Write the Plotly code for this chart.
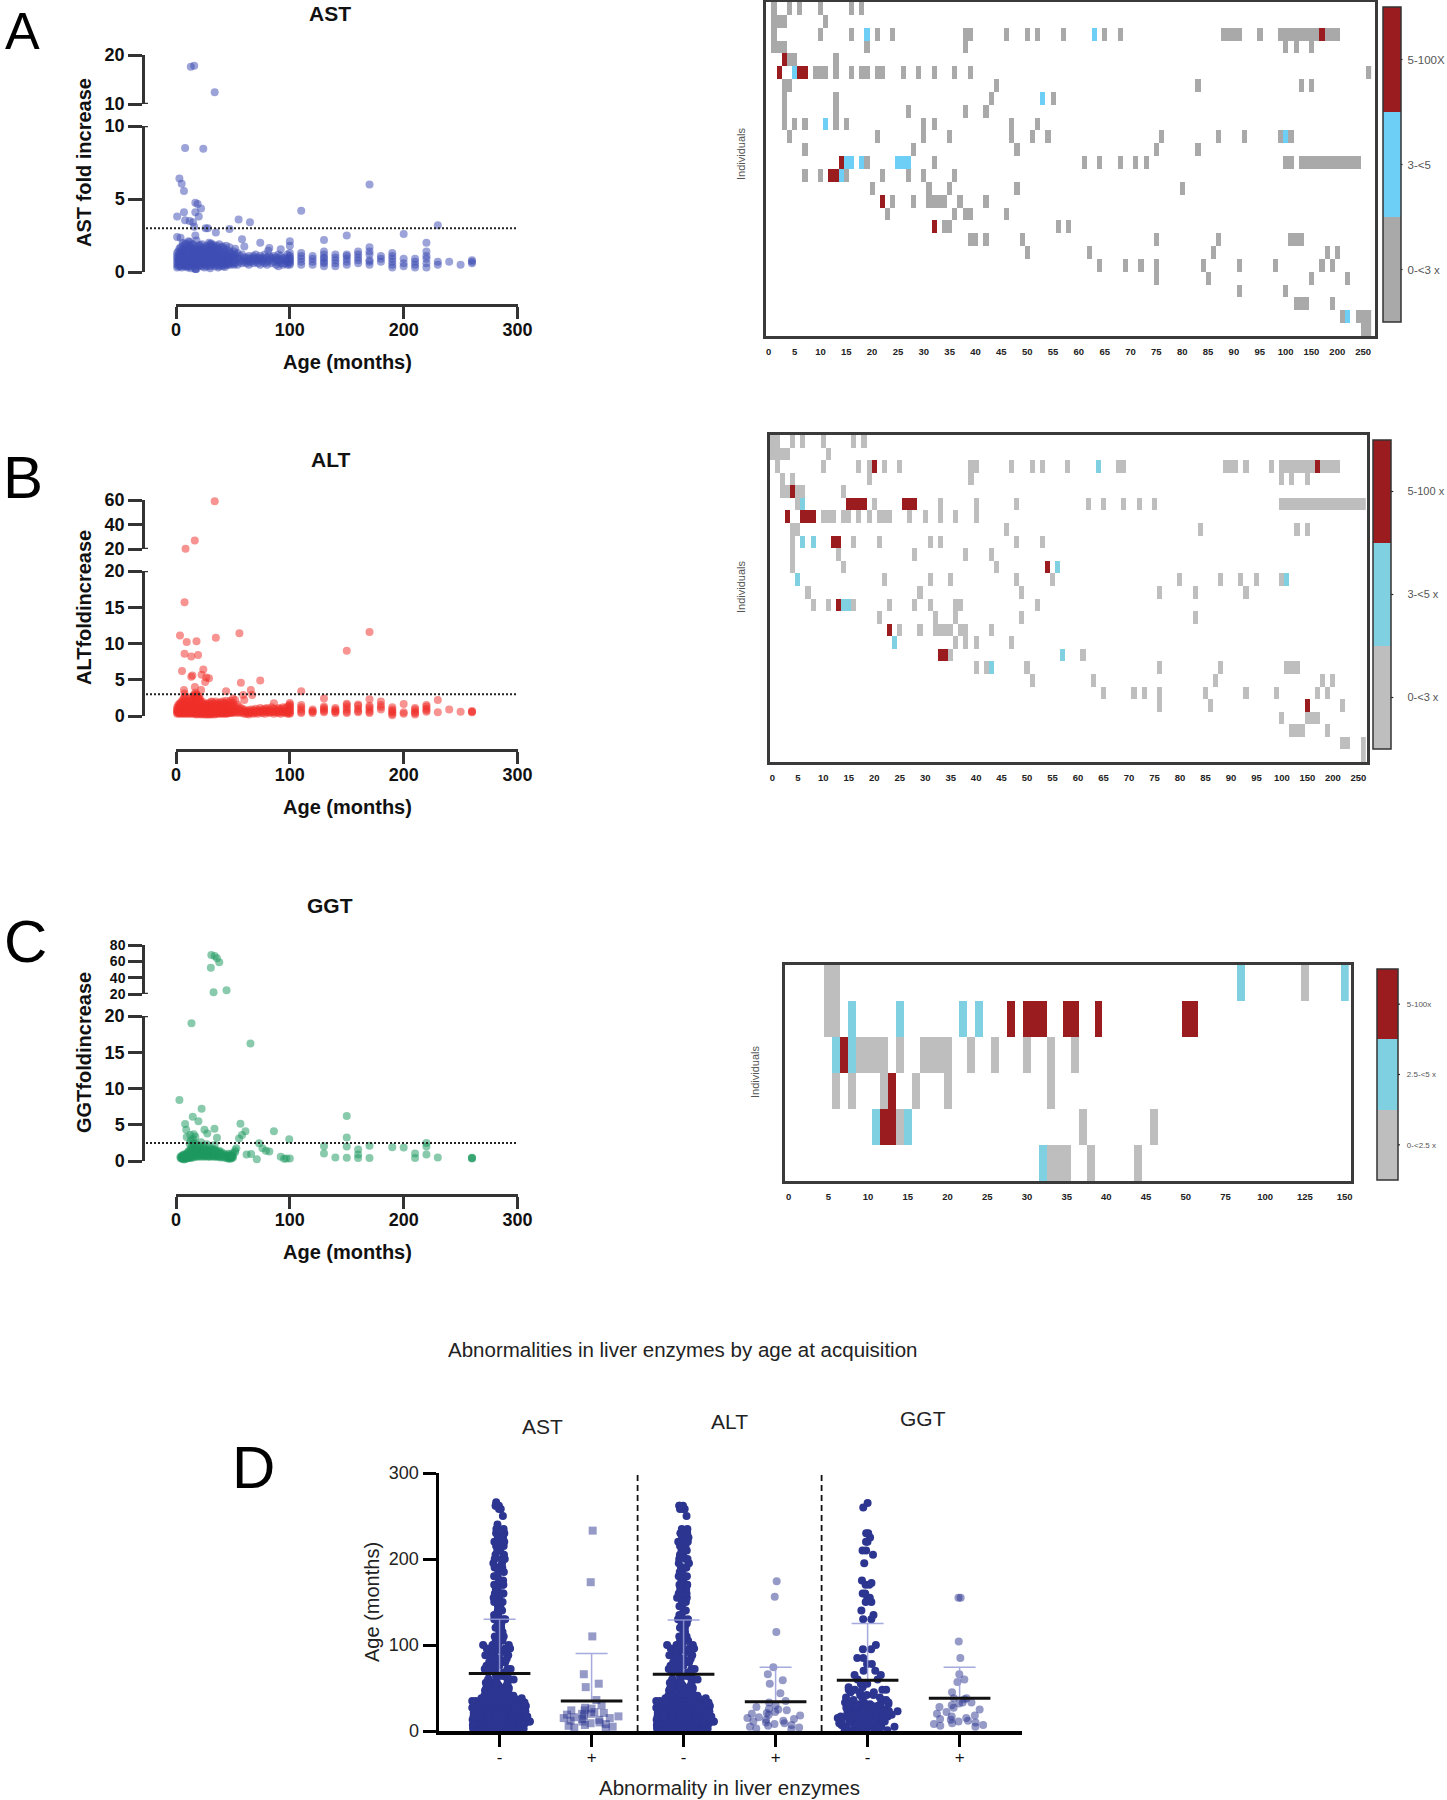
import plotly.graph_objects as go

W, H = 1447, 1800
FONT = "Liberation Sans"

def X(p): return p / W
def Y(p): return 1 - p / H

# ---------- Panel A-C scatter data: (age, [fold values]) ----------
AST_HIGH_AGE = [13,16,34,8,24,3,5,7,170,17,19,22,17,7,20,1,110,55,65,8,12,15,16,26,28,35,47,230,200,150,130,58,60,74,220,100,100,1,4,12,17,170,82,92,81,
                6,9,11,14,18,21,23,27,29,31,33,36,38,41,44,47,52,10,13,17,25,30,37,43]
AST_HIGH_VAL = [17.6,17.8,12.4,8.5,8.45,6.4,6.05,5.55,6.0,4.75,4.65,4.35,4.1,4.1,3.8,3.8,4.2,3.6,3.4,3.55,3.5,3.4,3.1,3.0,3.0,2.7,2.95,3.2,2.6,2.5,2.2,2.25,1.75,2.0,2.0,2.1,1.8,2.4,2.35,2.05,2.5,1.7,1.65,1.55,1.45,
                2.0,1.95,2.1,1.9,2.15,1.85,1.9,1.8,2.0,1.95,1.85,1.8,1.9,1.75,1.8,1.7,1.6,.3,.25,.2,.3,.25,.3,.35]
AST_CLOUD = [
 (1,[.3,.5,.7,.9,1.1,1.3]),(2,[.4,.6,.8,1.0,1.4]),(3,[.5,.7,.9,1.2,1.6]),(4,[.4,.6,.8,1.1,1.3,1.7]),(5,[.3,.5,.9,1.2,1.5]),
 (6,[.5,.7,1.0,1.3,1.8]),(7,[.4,.6,.8,1.1,1.4,1.6]),(8,[.5,.7,.9,1.2,1.5,1.9]),(9,[.4,.8,1.0,1.3,1.7]),(10,[.5,.6,.9,1.1,1.4,1.6]),
 (11,[.4,.7,1.0,1.2,1.5]),(12,[.5,.8,.9,1.3,1.6,1.8]),(13,[.4,.6,1.0,1.4,1.7]),(14,[.5,.7,.9,1.1,1.5]),(15,[.6,.8,1.0,1.2,1.4,1.9]),
 (16,[.4,.7,1.1,1.3,1.6]),(17,[.2,.5,.8,1.0,1.5,1.7]),(18,[.2,.6,.9,1.2,1.4]),(19,[.5,.7,1.0,1.3,1.6]),(20,[.4,.8,1.1,1.5,1.8]),
 (21,[.5,.6,.9,1.2,1.4]),(22,[.6,.8,1.0,1.3,1.7]),(23,[.4,.7,1.1,1.4]),(24,[.5,.9,1.2,1.6]),(25,[.6,.8,1.0,1.3,1.5]),
 (26,[.5,.7,1.1,1.4,1.7]),(27,[.4,.8,1.0,1.2,1.6]),(28,[.6,.9,1.3,1.5]),(29,[.5,.7,1.1,1.4]),(30,[.4,.8,1.0,1.3,1.9]),
 (31,[.6,.9,1.2,1.5,1.8]),(32,[.5,.7,1.0,1.4,1.7]),(33,[.6,.8,1.1,1.6]),(34,[.4,.9,1.3,1.5]),(35,[.5,.7,1.0,1.2,1.7]),
 (36,[.6,.8,1.1,1.4]),(37,[.5,.9,1.3,1.6]),(38,[.4,.7,1.0,1.5]),(39,[.6,.8,1.2,1.4]),(40,[.5,.9,1.1,1.7]),
 (41,[.4,.7,1.0,1.3]),(42,[.5,.8,1.2,1.6]),(43,[.6,.9,1.4]),(44,[.5,.7,1.1,1.3]),(45,[.6,.8,1.0,1.5]),
 (46,[.5,.9,1.2]),(47,[.6,.7,1.0,1.4]),(48,[.5,.8,1.1,1.3]),(50,[.6,.9,1.0,1.2]),(51,[.5,.7,1.1,1.4]),
 (52,[.6,.8,1.0,1.2]),(54,[.5,.9,1.3]),(56,[.7,.9,1.1]),(58,[.6,.8,1.2]),(60,[.7,1.0]),(62,[.6,.8,1.0]),
 (64,[.5,.7,.9,1.1]),(66,[.7,.9]),(68,[.6,.8,1.0,1.1]),(70,[.7,.9,1.2]),(72,[.6,.8,1.0]),(74,[.5,.9,1.1]),
 (76,[.7,.8,1.0]),(78,[.6,.9,1.2]),(80,[.5,.7,1.0]),(82,[.8,1.1]),(84,[.6,.9,1.0]),(86,[.7,1.1]),
 (88,[.5,.8,1.0]),(90,[.4,.7,.9,1.2]),(92,[.6,.8,1.1]),(94,[.5,.9]),(96,[.6,.8,1.0]),(98,[.5,.7,.9,1.2]),
 (100,[.5,.6,.7,.8,.9,1.0,1.1,1.3]),(110,[.5,.7,.9,1.1,1.3]),(120,[.5,.7,.9,1.1]),(130,[.4,.6,.7,.9,1.0,1.2,1.4]),
 (140,[.4,.6,.8,1.0,1.2]),(150,[.5,.7,.9,1.1,1.2]),(160,[.6,.8,1.0,1.2,1.4]),(170,[.5,.7,.8,1.2,1.4]),(180,[.7,.9,1.1]),
 (190,[.3,.5,.7,.9,1.1,1.3]),(200,[.4,.6,.9]),(210,[.3,.5,.7,.9]),(220,[.3,.6,.9,1.1,1.4]),(230,[.5,.7]),(240,[.7]),(250,[.5]),(260,[.6,.7,.8]),
]

ALT_HIGH_AGE = [34,16.5,8.4,7.5,3.5,9.4,18,35,55.7,170,150,7.5,13.4,19.4,5.3,24,22.5,13.4,14.4,26.6,29,25.6,57,74,7,7.5,16.6,22,44,65.7,110,67,59,60,130,170,230,180,200,50,15.6,18,20,8,86]
ALT_HIGH_VAL = [59,27,20.3,15.7,11.1,10.2,10.3,10.8,11.4,11.6,9.0,8.6,8.2,8.4,6.2,6.4,5.7,5.4,5.6,5.3,5.2,4.7,4.6,4.9,3.6,3.1,4.0,3.6,3.4,3.6,3.4,2.9,2.9,2.2,2.4,2.3,2.2,2.0,1.65,2.4,2.9,2.7,2.2,2.7,1.75]
ALT_CLOUD = [
 (1,[.3,.5,.7,.9,1.2]),(2,[.4,.6,.8,1.1,1.5]),(3,[.3,.5,.9,1.3,1.7]),(4,[.4,.7,1.0,1.4,1.8]),(5,[.3,.6,.8,1.2,1.6,2.0]),
 (6,[.4,.5,.9,1.1,1.5,2.2]),(7,[.3,.7,1.0,1.3,1.9,2.5]),(8,[.4,.6,.8,1.2,1.6,2.1]),(9,[.3,.5,.9,1.4,1.8]),(10,[.4,.7,1.1,1.5,2.0]),
 (11,[.3,.6,.8,1.2,1.7]),(12,[.4,.5,1.0,1.3,1.9,2.3]),(13,[.3,.7,.9,1.4,1.6,2.6]),(14,[.4,.6,1.1,1.5,2.2]),(15,[.3,.5,.8,1.2,1.8,2.4]),
 (16,[.4,.7,1.0,1.6,2.0,2.8]),(17,[.3,.6,.9,1.3,1.7,2.5,3.2]),(18,[.2,.5,1.1,1.4,2.1,2.9,3.0]),(19,[.3,.7,.8,1.2,1.9,2.6]),(20,[.4,.6,1.0,1.5,2.3,2.7]),
 (21,[.3,.5,.9,1.3,1.8,2.4]),(22,[.2,.7,1.1,1.6,2.0]),(23,[.3,.6,.8,1.2,1.7]),(24,[.4,.5,1.0,1.4,1.9]),(25,[.2,.7,.9,1.3,1.6]),
 (26,[.3,.6,1.1,1.5]),(27,[.2,.5,.8,1.2,1.7]),(28,[.3,.7,1.0,1.4]),(29,[.2,.6,.9,1.3,1.8]),(30,[.3,.5,1.1,1.6]),
 (31,[.2,.7,.8,1.2,2.0]),(32,[.3,.6,1.0,1.5,1.9]),(33,[.4,.5,.9,1.3]),(34,[.2,.7,1.1,1.7]),(35,[.3,.6,.8,1.4,2.0]),
 (36,[.4,.5,1.0,1.6]),(37,[.3,.7,.9,1.2,1.8]),(38,[.4,.6,1.1,1.5]),(39,[.3,.5,.8,1.3,1.9]),(40,[.4,.7,1.0,1.6]),
 (41,[.3,.6,.9,1.2,2.0]),(42,[.4,.5,1.1,1.4,1.8]),(43,[.3,.7,.8,1.3]),(44,[.4,.6,1.0,1.7,2.1]),(45,[.3,.5,.9,1.5]),
 (46,[.4,.7,1.1,1.3,1.9]),(47,[.5,.6,.8,1.4]),(48,[.4,.7,1.0,1.6,2.1]),(49,[.5,.6,.9,1.2]),(50,[.4,.8,1.1,1.5,1.8]),
 (52,[.5,.7,.9,1.3,2.2]),(54,[.4,.6,1.0,1.6]),(56,[.5,.8,1.2]),(58,[.4,.7,1.0]),(60,[.3,.6,.9]),(62,[.3,.5,.7]),
 (64,[.2,.4,.6,.8]),(66,[.4,.6,.9]),(68,[.3,.5,.8]),(70,[.4,.7,1.0]),(72,[.3,.6,.8]),(74,[.5,.7,1.1]),
 (76,[.4,.6,.9]),(78,[.3,.7,1.0]),(80,[.5,.8,1.1]),(82,[.4,.6,.9]),(84,[.5,.7,1.2]),(86,[.3,.6,1.0]),
 (88,[.5,.8]),(90,[.4,.6,.9,1.1]),(92,[.3,.7,1.0]),(94,[.5,.6,1.2]),(96,[.4,.8,1.1]),(98,[.3,.5,.7,1.3]),
 (100,[.3,.4,.6,.8,1.0,1.2,1.4,1.6,1.8]),(110,[.4,.6,.9,1.2,1.5]),(120,[.4,.6,.7,.9]),(130,[.5,.7,.9,1.1,1.3]),
 (140,[.4,.6,.7,.9,1.1]),(150,[.4,.6,.9,1.2,1.5,1.7]),(160,[.5,.7,1.0,1.4,1.6]),(170,[.4,.6,.9,1.2,1.4]),(180,[.9,1.2,1.5]),
 (190,[.1,.3,.5,.7,.9,1.2]),(200,[.3,.5]),(210,[.2,.4,.6,.9,1.1]),(220,[.6,.8,1.0,1.3,1.5]),(230,[.5]),(240,[.9]),(250,[.6]),(260,[.5,.6,.7]),
]

GGT_HIGH_AGE = [31,34,36,38,30.6,44.4,33,13.6,65.4,3,22.5,150,14.7,19.7,8,56.6,9,25,33.8,61,86,58,27.5,12.5,15.6,17,9.4,99.5,150,36,55.4,220,150,170,130,190,200,220,73,76,79,82,53,160,130,220,210,160,62,66,92,95,71,100,97,140,150,160,170,210,230,260,260,260]
GGT_HIGH_VAL = [67.7,66.5,63.7,58.8,52.2,24.5,22,19,16.2,8.4,7.2,6.2,6.1,5.5,5.1,5.15,4.3,4.3,4.45,4.1,4.1,3.6,3.8,3.6,3.7,3.35,3.3,3.0,3.25,3.2,3.1,2.5,2.0,2.1,2.05,1.9,1.85,2.0,2.45,1.75,1.4,1.3,1.75,1.6,1.05,.9,1.05,.9,.9,.95,.6,.3,.25,.35,.35,.5,.45,.4,.4,.4,.5,.35,.4,.45]
GGT_CLOUD = [
 (4,[.4,.6]),(5,[.3,.5,.7]),(6,[.3,.4,.6,.8]),(7,[.2,.4,.5,.7,.9]),(8,[.3,.4,.6,.8]),(9,[.3,.5,.7,1.0]),
 (10,[.4,.5,.8,1.1]),(11,[.4,.6,.9,1.3]),(12,[.5,.7,1.0,1.5,2.4]),(13,[.4,.8,1.2,1.7,2.8]),(14,[.6,.9,1.4,2.1]),(15,[.5,1.0,1.6,2.5,3.0]),
 (16,[.7,1.1,1.3,2.0]),(17,[.6,.9,1.5,2.4]),(18,[.7,1.2,1.8]),(19,[.6,1.0,1.4,2.2]),(20,[.8,1.1,1.6]),(21,[.7,.9,1.3,2.0]),
 (22,[.6,1.2,1.7,2.6]),(23,[.8,1.0,1.4]),(24,[.7,1.1,1.5,2.1]),(25,[.6,.9,1.3,1.8]),(26,[.7,1.2,1.6]),(27,[.8,1.0,1.4,2.3]),
 (28,[.6,1.1,1.5]),(29,[.7,.9,1.3,1.9]),(30,[.6,1.0,1.2,1.6]),(31,[.7,1.1,1.4]),(32,[.8,.9,1.3,1.7]),(33,[.6,1.0,1.5]),
 (34,[.7,1.2,1.6,2.2]),(35,[.6,.9,1.1,1.4]),(36,[.7,1.0,1.3]),(37,[.6,.8,1.2]),(38,[.7,.9,1.4]),(39,[.5,.8,1.1]),
 (40,[.6,.9,1.2]),(42,[.5,.7,1.0]),(44,[.4,.6,.8]),(46,[.3,.5,.7,1.0]),(47,[.4,.6,.9]),(48,[.3,.5,.7]),(49,[.4,.6,.8]),(50,[.5,.7,1.1]),(52,[1.2,1.5]),
]

# ---------- Heatmap data: {row: [columns]} per level ----------
AST_COL_VALS = list(range(0, 105, 5)) + [105, 110, 115]
AST_COL_TEXT = [str(v) for v in range(0, 105, 5)] + ["150", "200", "250"]
AST_LEVEL_TEXT = ["0-<3 x", "3-<5", "5-100X"]
AST_LOW = {
 0:[1,4,6,10,16,18], 1:[1,2,3,11],
 2:[1,10,16,21,24,38,39,46,50,52,57,65,68,88,89,90,91,95,99,100,101,102,103,104,105,106,108,109,110],
 3:[1,2,3,19,38,100,102,105], 4:[4,5,13],
 5:[9,10,11,13,16,18,19,21,22,26,29,32,36,39,116],
 6:[3,4,44,83,103,105], 7:[3,13,43,55], 8:[3,13,27,38,42],
 9:[3,5,7,13,15,30,32,47,52], 10:[4,21,30,35,47,51,54,76,87,92,99,101],
 11:[7,28,48,75,83], 12:[19,32,61,64,68,71,73,100,101,103,104,105,106,107,108,109,110,111,112,113,114],
 13:[7,10,15,22,27,30,36], 14:[20,31,35,48,80], 15:[24,28,31,32,33,34,37,42],
 16:[23,36,38,39,46], 17:[34,35,56,58], 18:[39,40,42,49,75,87,101,102,103],
 19:[50,62,86,108,110], 20:[64,69,72,75,84,91,98,107,109], 21:[75,85,105,112],
 22:[91,100], 23:[102,103,104,109], 24:[111,114,115,116], 25:[115,116],
}
AST_MID = {2:[19,63], 5:[5], 7:[53], 9:[11], 10:[100], 12:[15,16,18,25,26,27], 13:[14], 24:[112]}
AST_TOP = {2:[107], 4:[3], 5:[2,6,7], 12:[14], 13:[12,13], 15:[22], 17:[32]}

ALT_COL_VALS = AST_COL_VALS
ALT_COL_TEXT = AST_COL_TEXT
ALT_LEVEL_TEXT = ["0-<3 x", "3-<5 x", "5-100 x"]
ALT_LOW = {
 0:[0,1,4,6,10,16,18], 1:[0,1,2,3,11],
 2:[1,10,17,19,22,25,39,40,47,51,53,58,68,69,89,90,91,93,98,100,101,102,103,104,105,106,108,109,110,111],
 3:[2,4,19,39,100,102,105], 4:[2,3,5,6,14],
 5:[5,20,33,40,48,62,65,69,72,75]+list(range(100,117)),
 6:[10,11,12,14,15,17,19,21,22,23,27,30,33,36,40],
 7:[4,5,46,84,103,105], 8:[4,16,21,31,33,48,53], 9:[4,13,28,38,43],
 10:[4,14,44], 11:[22,31,35,48,55,80,88,92,95,100],
 12:[7,29,49,76,83,93], 13:[8,11,16,23,28,31,36,37,52], 14:[21,32,36,49,83],
 15:[25,29,32,33,34,35,37,38,43], 16:[36,38,40,47], 17:[35,61],
 18:[40,42,50,76,88,101,102,103], 19:[51,63,87,108,110], 20:[65,71,73,76,85,93,99,107,109],
 21:[76,86,112], 22:[100,105,106,107], 23:[102,103,104,109], 24:[112,113,116], 25:[116],
}
ALT_MID = {2:[64], 5:[6], 8:[6,8,], 10:[56], 11:[5,101], 13:[14,15], 16:[24], 17:[57], 18:[43]}
ALT_TOP = {2:[20,107], 4:[4], 5:[15,16,17,18,26,27,28], 6:[3,6,7,8], 8:[12,13], 10:[54], 13:[13], 15:[23], 17:[33,34], 21:[105]}

GGT_COL_VALS = list(range(0, 55, 5)) + [55, 60, 65, 70]
GGT_COL_TEXT = [str(v) for v in range(0, 55, 5)] + ["75", "100", "125", "150"]
GGT_LEVEL_TEXT = ["0-<2.5 x", "2.5-<5 x", "5-100x"]
GGT_LOW = {0:[5,6,65], 1:[5,6], 2:[9,10,11,12,14,17,18,19,20,23,26,30,33,36],
           3:[6,8,12,16,20,33], 4:[14,37,46], 5:[33,34,35,38,44]}
GGT_MID = {0:[57,70], 1:[8,14,22,24], 2:[6,8], 4:[11,15], 5:[32]}
GGT_TOP = {1:[28,30,31,32,35,36,39,50,51], 2:[7], 3:[13], 4:[12,13]}

# ---------- Panel D data ----------
GROUP_LABELS = ["-", "+", "-", "+", "-", "+"]
GROUP_MEANS = [67, 35, 66, 34, 59, 38]
GROUP_SD = [63, 55, 63, 40, 66, 36]
AST_NEG_AGE = [1,3,5,7,9,11,13,15,17,19,21,23,25,27,29,31,33,35,38,41,44,47,50,53,56,60,64,68,72,76,80,84,88,92,96,100,105,110,115,120,125,130,135,140,145,150,155,160,165,170,175,180,185,190,195,200,205,210,215,220,225,230,235,240,250,258,262,266]
AST_NEG_CNT = [12,13,14,14,13,14,13,12,14,13,12,13,12,12,12,11,10,10,8,8,8,7,7,5,4,4,4,4,4,4,4,4,4,4,4,5,2,3,2,3,2,4,2,3,2,4,3,4,2,4,2,3,2,4,2,3,2,3,2,4,3,3,2,1,1,2,3,1]
AST_POS_AGE = [233,173,110,66,55,51,36,30,27,26,24,24,22,21,20,20,19,18,17,16,15,15,14,13,12,11,10,9,8,7,6,5,4,3]
ALT_NEG_AGE = [1,3,5,7,9,11,13,15,17,19,21,23,25,27,29,31,33,35,38,41,44,47,50,53,56,60,64,68,72,76,80,84,88,92,96,100,105,110,115,120,125,130,135,140,145,150,155,160,165,170,175,180,185,190,195,200,205,210,215,220,225,230,235,250,258,262]
ALT_NEG_CNT = [12,13,14,14,13,14,13,12,14,13,12,13,12,12,12,11,10,10,8,8,8,7,7,5,4,4,4,4,4,4,4,4,4,4,4,5,3,3,2,3,2,4,2,3,2,4,3,4,2,4,2,3,2,4,2,3,2,3,2,4,3,3,2,1,3,3]
ALT_POS_AGE = [174,156,115,74,66,59,55,44,35,33,30,28,26,25,24,22,21,20,19,18,16,15,14,13,12,11,10,9,8,7,6,5,4,3,2]
GGT_NEG_AGE = [1,3,5,7,9,11,13,15,17,19,21,23,25,27,29,31,33,36,39,42,45,48,51,55,60,65,70,78,85,95,100,130,135,140,150,155,160,170,172,175,195,205,210,220,225,230,260,265]
GGT_NEG_CNT = [4,6,7,7,6,7,6,7,6,6,7,6,6,5,6,5,4,3,3,3,3,4,2,2,2,2,2,2,2,2,1,2,1,1,2,2,2,2,1,1,1,1,2,2,1,2,1,1]
GGT_POS_AGE = [155,155,104,85,66,60,57,45,38,38,37,33,33,32,30,28,27,25,22,20,18,17,15,14,13,12,11,10,9,8,7,6,5]

PANEL_TEXTS = [("A",22,31,52),("B",23,477,60),("C",25,941,60),("D",253,1467,60)]


def flatten(cloud, hi_age, hi_val):
    xs, ys = list(hi_age), list(hi_val)
    for a, vals in cloud:
        for v in vals:
            xs.append(a); ys.append(v)
    return xs, ys

def expand(ages, counts):
    out = []
    for a, c in zip(ages, counts):
        out += [a] * c
    return out

fig = go.Figure()
layout = {}
shapes = []
annotations = []

def text(t, x, y, size, color="#111", bold=False, angle=0):
    annotations.append(dict(text=f"<b>{t}</b>" if bold else t, x=X(x), y=Y(y), xref="paper", yref="paper",
                            showarrow=False, xanchor="center", yanchor="middle", textangle=angle,
                            font=dict(family=FONT, size=size, color=color)))

LINE = "#333333"
def scatter_panel(idx, name, ylab, color, xs, ys, xaxis_y, zero, low_top, low_max, low_ticks,
                  up_bottom, up_top, up_range, up_ticks, thr, title_y, label_y, ylab_y, up_font):
    xn = f"xaxis{'' if idx==0 else idx+1}"
    xr = f"x{'' if idx==0 else idx+1}"
    yl = 2*idx + 1
    yu = 2*idx + 2
    ynl = "yaxis" if yl == 1 else f"yaxis{yl}"
    yrl = "y" if yl == 1 else f"y{yl}"
    ynu = f"yaxis{yu}"; yru = f"y{yu}"
    common = dict(showgrid=False, zeroline=False, showline=True, linecolor=LINE, linewidth=2.5,
                  ticks="outside", tickwidth=2.5, tickcolor=LINE)
    tf = dict(family=FONT, size=18, color="#111", weight="bold")
    layout[xn] = dict(domain=[X(176), X(517.5)], range=[0, 300], anchor="free", position=Y(xaxis_y),
                      tickvals=[0,100,200,300], ticklen=12, ticklabelstandoff=-4, tickfont=tf, **common)
    layout[ynl] = dict(domain=[Y(zero), Y(low_top)], range=[0, low_max], anchor="free", position=X(143),
                       tickvals=low_ticks, ticklen=14, tickfont=tf, **common)
    layout[ynu] = dict(domain=[Y(up_bottom), Y(up_top)], range=up_range, anchor="free", position=X(143),
                       tickvals=up_ticks, ticklen=14, tickfont=dict(tf, size=up_font), **common)
    lx, ly, ux, uy = [], [], [], []
    for a, v in zip(xs, ys):
        if v > low_max:
            ux.append(a); uy.append(v)
        else:
            lx.append(a); ly.append(v)
    mk = dict(color=color, size=8, opacity=0.52, line=dict(width=0))
    fig.add_trace(go.Scatter(x=lx, y=ly, xaxis=xr, yaxis=yrl, mode="markers", marker=mk, cliponaxis=False, name=name, showlegend=False))
    fig.add_trace(go.Scatter(x=ux, y=uy, xaxis=xr, yaxis=yru, mode="markers", marker=mk, cliponaxis=False, name=name, showlegend=False))
    shapes.append(dict(type="line", xref="paper", yref=yrl, x0=X(146), x1=X(517), y0=thr, y1=thr,
                       line=dict(color="#222", width=2, dash="2px,2px")))
    shapes.append(dict(type="line", xref="paper", yref=yrl, x0=X(143), x1=X(148), y0=low_max, y1=low_max, line=dict(color=LINE, width=2.5)))
    shapes.append(dict(type="line", xref="paper", yref=yru, x0=X(143), x1=X(148), y0=up_range[0], y1=up_range[0], line=dict(color=LINE, width=2.5)))
    text(name, 330, title_y, 21, bold=True)
    text("Age (months)", 347, label_y, 20, bold=True)
    text(ylab, 84, ylab_y, 20, bold=True, angle=-90)

x1, y1 = flatten(AST_CLOUD, AST_HIGH_AGE, AST_HIGH_VAL)
x2, y2 = flatten(ALT_CLOUD, ALT_HIGH_AGE, ALT_HIGH_VAL)
x3, y3 = flatten(GGT_CLOUD, GGT_HIGH_AGE, GGT_HIGH_VAL)
scatter_panel(0, "AST", "AST fold increase", "#3f4fb5", x1, y1, 305, 272, 126, 10, [0,5,10], 104, 55, [10,20], [10,20], 3, 14, 362, 163, 18)
scatter_panel(1, "ALT", "ALTfoldincrease", "#f0302a", x2, y2, 750, 716, 571, 20, [0,5,10,15,20], 549, 500, [20,60], [20,40,60], 3, 459, 807, 608, 18)
scatter_panel(2, "GGT", "GGTfoldincrease", "#1f9a60", x3, y3, 1195, 1161, 1016, 20, [0,5,10,15,20], 994, 945, [20,80], [20,40,60,80], 2.5, 905, 1252, 1053, 14)

def heat_panel(xi, yi, low, mid, top, nrows, ncols, colvals, coltext, levels, colors,
               left, right, top_px, bot_px, xr, cb_left, cb_top, cb_bot, cb_w, cb_font, cb_gap, tick_font, ind_x, ind_y, ind_size):
    z = [[None]*ncols for _ in range(nrows)]
    for level, d in ((0.5, low), (1.5, mid), (2.5, top)):
        for r, cols in d.items():
            for c in cols:
                z[r][c] = level
    gray, blue, red = colors
    cs = [[0, gray], [1/3, gray], [1/3, blue], [2/3, blue], [2/3, red], [1, red]]
    ticks_at = [.5, 1.5, 2.5]
    fig.add_trace(go.Heatmap(z=z, x=list(range(ncols)), y=list(range(nrows)), xaxis=f"x{xi}", yaxis=f"y{yi}",
                             zmin=0, zmax=3, colorscale=cs, hoverongaps=False,
                             colorbar=dict(x=X(cb_left), xanchor="left", y=Y(cb_bot), yanchor="bottom",
                                           len=(cb_bot-cb_top)/H, thickness=cb_w, xpad=0, ypad=0,
                                           outlinewidth=1.5, outlinecolor="#333",
                                           tickvals=ticks_at, ticktext=levels, ticks="outside", ticklen=cb_gap,
                                           tickcolor="rgba(0,0,0,0)", tickfont=dict(family=FONT, size=cb_font, color="#555"))))
    for t in ticks_at:
        ty = cb_bot - (cb_bot - cb_top) * t / 3
        shapes.append(dict(type="line", xref="paper", yref="paper", x0=X(cb_left+cb_w-2), x1=X(cb_left+cb_w+2),
                           y0=Y(ty), y1=Y(ty), line=dict(color="#222", width=1.2)))
    layout[f"xaxis{xi}"] = dict(domain=[X(left), X(right)], range=xr, anchor=f"y{yi}", showgrid=False, zeroline=False,
                                showline=True, mirror=True, linecolor="#3a3a3a", linewidth=2.5,
                                tickvals=colvals, ticktext=coltext, ticks="outside", ticklen=5, tickcolor="rgba(0,0,0,0)",
                                tickfont=dict(family=FONT, size=tick_font, color="#222", weight="bold"), tickangle=0)
    layout[f"yaxis{yi}"] = dict(domain=[Y(bot_px), Y(top_px)], range=[nrows-0.5, -0.5], anchor=f"x{xi}", showgrid=False,
                                zeroline=False, showline=True, mirror=True, linecolor="#3a3a3a", linewidth=2.5,
                                showticklabels=False, ticks="")
    text("Individuals", ind_x, ind_y, ind_size, color="#555", angle=-90)

heat_panel(4, 7, AST_LOW, AST_MID, AST_TOP, 26, 117, AST_COL_VALS, AST_COL_TEXT, AST_LEVEL_TEXT,
           ("#a9a9a9", "#6dcff6", "#9b1c1f"), 766, 1375, 2, 336, [-0.53, 117.3], 1382.5, 7, 322, 18, 11.5, 4, 9.5, 741, 154, 11)
heat_panel(5, 8, ALT_LOW, ALT_MID, ALT_TOP, 26, 117, ALT_COL_VALS, ALT_COL_TEXT, ALT_LEVEL_TEXT,
           ("#bebebe", "#7fd0e0", "#9b1c1f"), 770, 1366.5, 435, 762, [-0.45, 116.6], 1373.3, 440, 749, 18, 11, 14, 9.5, 741, 587, 11)
heat_panel(6, 9, GGT_LOW, GGT_MID, GGT_TOP, 6, 71, GGT_COL_VALS, GGT_COL_TEXT, GGT_LEVEL_TEXT,
           ("#bebebe", "#7fd0e0", "#9b1c1f"), 784.7, 1351, 965, 1181, [-0.5, 70.8], 1377, 969, 1180, 21, 8, 7, 9.5, 755, 1072, 11)

# ---------- Panel D ----------
groups = [expand(AST_NEG_AGE, AST_NEG_CNT), AST_POS_AGE, expand(ALT_NEG_AGE, ALT_NEG_CNT), ALT_POS_AGE,
          expand(GGT_NEG_AGE, GGT_NEG_CNT), GGT_POS_AGE]
NEG_BANDS = [(0, 36, 0.66), (36, 58, 0.62), (58, 102, 0.42), (102, 400, 0.17)]
POS_BANDS = [(0, 36, 0.66), (36, 80, 0.2), (80, 400, 0.03)]
for i, ages in enumerate(groups):
    neg = i % 2 == 0
    for lo, hi, bw in (NEG_BANDS if neg else POS_BANDS):
        part = [a for a in ages if lo <= a < hi]
        if not part:
            continue
        fig.add_trace(go.Box(x=[i]*len(part), y=part, xaxis="x7", yaxis="y10", boxpoints="all", jitter=1, pointpos=0,
                             width=bw, fillcolor="rgba(0,0,0,0)", line=dict(width=0, color="rgba(0,0,0,0)"),
                             marker=dict(color="#2c3590", size=8, opacity=1 if neg else 0.5,
                                         symbol="square" if i == 1 else "circle"),
                             showlegend=False))
ZERO = [0] * 6
fig.add_trace(go.Scatter(x=list(range(6)), y=GROUP_MEANS, xaxis="x7", yaxis="y10", mode="markers",
                         marker=dict(symbol="line-ew", size=44, color="#111", line=dict(width=3, color="#111")),
                         error_y=dict(type="data", array=GROUP_SD, arrayminus=ZERO, symmetric=False,
                                      color="rgba(150,155,215,0.85)", thickness=1.5, width=16),
                         showlegend=False))
layout["xaxis7"] = dict(domain=[X(438.5), X(1022)], range=[-0.664, 5.678], anchor="y10", showgrid=False, zeroline=False,
                        showline=True, linecolor="#000", linewidth=3.5, tickvals=list(range(6)), ticktext=GROUP_LABELS,
                        ticks="outside", ticklen=12, ticklabelstandoff=-4, tickwidth=3, tickcolor="#000", tickfont=dict(family=FONT, size=17, color="#111"))
layout["yaxis10"] = dict(domain=[Y(1731), Y(1473)], range=[0, 300], anchor="x7", showgrid=False, zeroline=False,
                         showline=True, linecolor="#000", linewidth=3, tickvals=[0,100,200,300], ticks="outside", ticklen=13,
                         tickwidth=3, tickcolor="#000", tickfont=dict(family=FONT, size=18, color="#222"))
for sx in (1.5, 3.5):
    shapes.append(dict(type="line", xref="x7", yref="y10", x0=sx, x1=sx, y0=0, y1=300, line=dict(color="#111", width=1.8, dash="6px,4px")))
text("Abnormalities in liver enzymes by age at acquisition", 682, 1349, 20.5, color="#222")
text("AST", 542, 1426, 21, color="#222")
text("ALT", 730, 1421, 21, color="#222")
text("GGT", 923, 1418, 21, color="#222")
text("Age (months)", 372, 1602, 20, color="#222", angle=-90)
text("Abnormality in liver enzymes", 730, 1787, 20.5, color="#222")
for t, px, py, sz in PANEL_TEXTS:
    text(t, px, py, sz, color="#000")

fig.update_layout(width=W, height=H, margin=dict(l=0, r=0, t=0, b=0, autoexpand=False), paper_bgcolor="white", plot_bgcolor="white",
                  showlegend=False, shapes=shapes, annotations=annotations, **layout)
fig.write_html("out.html", config={"displayModeBar": False}, post_script="document.body.style.margin='0';")
